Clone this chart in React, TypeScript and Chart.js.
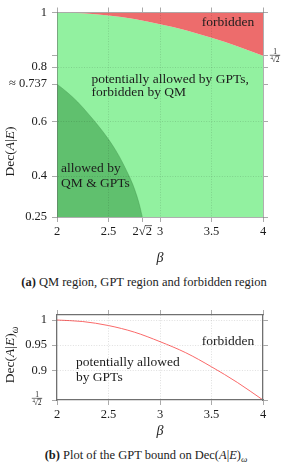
import React, { useEffect, useRef } from 'react';
import { Chart, registerables } from 'chart.js';

Chart.register(...registerables);

// ---- data ----
const BETA_GPT = [2, 2.25, 2.5, 2.75, 3, 3.25, 3.5, 3.75, 4];
const DEC_GPT = [1.0, 0.997, 0.989, 0.976, 0.957, 0.935, 0.907, 0.876, 0.841];
const BETA_QM = [2, 2.1, 2.2, 2.3, 2.4, 2.5, 2.6, 2.7, 2.75, 2.8, 2.828];
const DEC_QM = [0.737, 0.707, 0.672, 0.63, 0.585, 0.535, 0.475, 0.4, 0.355, 0.295, 0.25];

const X_TICKS_A = [2, 2.5, 2.828, 3, 3.5, 4];
const X_LABELS_A = ['2', '2.5', '2√2', '3', '3.5', '4'];
const Y_TICKS_A = [0.25, 0.4, 0.6, 0.737, 0.8, 0.841, 1];
const Y_LABELS_A = ['0.25', '0.4', '0.6', '≈ 0.737', '0.8', '', '1'];
const X_TICKS_B = [2, 2.5, 3, 3.5, 4];
const X_LABELS_B = ['2', '2.5', '3', '3.5', '4'];
const Y_TICKS_B = [0.841, 0.9, 0.95, 1];
const Y_LABELS_B = ['', '0.9', '0.95', '1'];

// ---- styles ----
const SERIF = "'Liberation Serif', 'DejaVu Serif', serif";
const TEXT = '#1c1c1c';
const RED = 'rgb(237,108,108)';
const LIGHT_GREEN = 'rgb(146,241,160)';
const DARK_GREEN = 'rgb(96,192,110)';
const GRID = 'rgba(0,0,0,0.16)';
const TICK = 'rgb(170,170,170)';
const FRAME_A = 'rgba(95,95,95,0.5)';
const FRAME_B = 'rgb(112,112,112)';
const TICK_SIZE = 12.5;
const ANN_SIZE = 13.5;
const X_PAD = 2;

const fixedTicks = (vals: number[]) => (axis: any) => {
  axis.ticks = vals.map((v) => ({ value: v }));
};
const gridColor = (vals: number[]) => (ctx: any) =>
  ctx.tick && vals.some((g) => Math.abs(g - ctx.tick.value) < 1e-6) ? GRID : 'rgba(0,0,0,0)';

function scales(xT: number[], xL: string[], yT: number[], yL: string[], xmin: number, xmax: number,
  ymin: number, ymax: number, xGrid: number[], yGrid: number[], frame: string, fw: number,
  bottomH: number, topH: number) {
  const border = { z: 1, color: frame, width: fw, dash: [1, 1.6] };
  const grid = { z: 1, tickColor: TICK, tickLength: 5, tickWidth: 1, lineWidth: 0.8 };
  const tickFont = { family: SERIF, size: TICK_SIZE };
  return {
    x: {
      type: 'linear', position: 'bottom', min: xmin, max: xmax,
      afterBuildTicks: fixedTicks(xT),
      afterFit: (s: any) => { s.height = bottomH; },
      ticks: { autoSkip: false, maxRotation: 0, padding: X_PAD, color: TEXT, font: tickFont,
        callback: (_v: any, i: number) => xL[i] },
      grid: { ...grid, color: gridColor(xGrid) },
      border,
    },
    x2: {
      type: 'linear', position: 'top', min: xmin, max: xmax,
      afterBuildTicks: fixedTicks(xT),
      afterFit: (s: any) => { s.height = topH; },
      ticks: { display: false },
      grid: { ...grid, drawOnChartArea: false },
      border,
    },
    y: {
      type: 'linear', position: 'left', min: ymin, max: ymax,
      afterBuildTicks: fixedTicks(yT),
      afterFit: (s: any) => { s.width = 57; },
      ticks: { autoSkip: false, padding: 5, color: TEXT, font: tickFont,
        callback: (_v: any, i: number) => yL[i] },
      grid: { ...grid, color: gridColor(yGrid) },
      border,
    },
    y2: {
      type: 'linear', position: 'right', min: ymin, max: ymax,
      afterBuildTicks: fixedTicks(yT),
      afterFit: (s: any) => { s.width = 25; },
      ticks: { display: false },
      grid: { ...grid, drawOnChartArea: false },
      border,
    },
  };
}

type Piece = { t: string; it?: boolean; sub?: boolean };

function drawPieces(ctx: any, pieces: Piece[], size: number, x: number, y: number, rotate: boolean) {
  ctx.save();
  ctx.translate(x, y);
  if (rotate) ctx.rotate(-Math.PI / 2);
  const fontOf = (p: Piece) => `${p.it ? 'italic ' : ''}${p.sub ? size * 0.7 : size}px ${SERIF}`;
  let total = 0;
  const widths = pieces.map((p) => {
    ctx.font = fontOf(p);
    const w = ctx.measureText(p.t).width;
    total += w;
    return w;
  });
  let cx = -total / 2;
  ctx.textAlign = 'left';
  ctx.textBaseline = 'alphabetic';
  ctx.fillStyle = TEXT;
  const base = size * 0.33;
  pieces.forEach((p, i) => {
    ctx.font = fontOf(p);
    ctx.fillText(p.t, cx, base + (p.sub ? size * 0.25 : 0));
    cx += widths[i];
  });
  ctx.restore();
}

function drawFrac(ctx: any, cx: number, barY: number, s: number) {
  ctx.save();
  ctx.fillStyle = TEXT;
  ctx.strokeStyle = TEXT;
  ctx.font = `${s}px ${SERIF}`;
  ctx.textAlign = 'center';
  ctx.textBaseline = 'alphabetic';
  ctx.fillText('1', cx, barY - 1.4);
  const wRad = ctx.measureText('√').width;
  const w2 = ctx.measureText('2').width;
  ctx.font = `${s * 0.6}px ${SERIF}`;
  const w4 = ctx.measureText('4').width;
  const total = w4 * 0.6 + wRad + w2;
  const left = cx - total / 2;
  const baseD = barY + 1.2 + s * 0.7;
  ctx.textAlign = 'left';
  ctx.fillText('4', left, baseD - s * 0.4);
  ctx.font = `${s}px ${SERIF}`;
  ctx.fillText('√', left + w4 * 0.6, baseD);
  ctx.fillText('2', left + w4 * 0.6 + wRad, baseD);
  ctx.lineWidth = 0.5;
  ctx.beginPath();
  const olY = baseD - s * 0.8;
  ctx.moveTo(left + w4 * 0.6 + wRad - 0.4, olY);
  ctx.lineTo(left + total, olY);
  ctx.stroke();
  ctx.lineWidth = 0.6;
  ctx.beginPath();
  ctx.moveTo(cx - total / 2 - 0.6, barY);
  ctx.lineTo(cx + total / 2 + 0.6, barY);
  ctx.stroke();
  ctx.restore();
}

type Ann = { x: number; y: number; lines: string[]; lh: number };

function drawAnns(chart: any, anns: Ann[]) {
  const { ctx } = chart;
  const xs = chart.scales.x;
  const ys = chart.scales.y;
  ctx.save();
  ctx.fillStyle = TEXT;
  ctx.font = `${ANN_SIZE}px ${SERIF}`;
  ctx.textAlign = 'left';
  ctx.textBaseline = 'alphabetic';
  anns.forEach((a) => {
    const px = xs.getPixelForValue(a.x);
    const py = ys.getPixelForValue(a.y);
    a.lines.forEach((l, i) => ctx.fillText(l, px, py + i * a.lh));
  });
  ctx.restore();
}

function drawBeta(ctx: any, x: number, y: number) {
  ctx.save();
  ctx.fillStyle = TEXT;
  ctx.font = `italic 14px ${SERIF}`;
  ctx.textAlign = 'center';
  ctx.textBaseline = 'alphabetic';
  ctx.fillText('β', x, y);
  ctx.restore();
}

const pts = (xs: number[], ys: number[]) => xs.map((x, i) => ({ x, y: ys[i] }));

function configA(): any {
  const gpt = pts(BETA_GPT, DEC_GPT);
  const qm = pts(BETA_QM, DEC_QM);
  const common = { pointRadius: 0, cubicInterpolationMode: 'monotone', borderColor: 'rgba(0,0,0,0)', borderWidth: 1 };
  return {
    type: 'line',
    data: {
      datasets: [
        { ...common, label: 'allowed by QM & GPTs', data: qm, fill: 'start', backgroundColor: DARK_GREEN, borderColor: 'rgba(70,150,80,0.55)', borderWidth: 0.8 },
        { ...common, label: 'forbidden', data: gpt, fill: 'end', backgroundColor: RED },
        { ...common, label: 'potentially allowed by GPTs', data: gpt, fill: 'start', backgroundColor: LIGHT_GREEN },
      ],
    },
    options: {
      responsive: false,
      animation: false,
      events: [],
      layout: { padding: 0 },
      plugins: { legend: { display: false }, tooltip: { enabled: false } },
      scales: scales(X_TICKS_A, X_LABELS_A, Y_TICKS_A, Y_LABELS_A, 2, 4, 0.25, 1,
        [2.5, 3, 3.5], [0.4, 0.6, 0.8], FRAME_A, 1, 53, 11),
    },
    plugins: [{
      id: 'decorA',
      afterDraw(chart: any) {
        const { ctx, chartArea } = chart;
        drawAnns(chart, [
          { x: 3.405, y: 0.949, lines: ['forbidden'], lh: 0 },
          { x: 2.336, y: 0.743, lines: ['potentially allowed by GPTs,', 'forbidden by QM'], lh: 13.5 },
          { x: 2.039, y: 0.415, lines: ['allowed by', 'QM & GPTs'], lh: 15 },
        ]);
        // y title
        drawPieces(ctx, [{ t: 'Dec(' }, { t: 'A', it: true }, { t: '|' }, { t: 'E', it: true }, { t: ')' }],
          ANN_SIZE, chartArea.left - 47, chartArea.top + 139, true);
        // x title
        drawBeta(ctx, chart.scales.x.getPixelForValue(3), chartArea.bottom + 45);
        // right fraction label
        const ys = chart.scales.y;
        drawFrac(ctx, chartArea.right + 12, ys.getPixelForValue(Y_TICKS_A[5]) - 0.6, 7.5);
        // overline on 2√2 label
        const xs = chart.scales.x;
        ctx.save();
        ctx.font = `${TICK_SIZE}px ${SERIF}`;
        const cx = xs.getPixelForValue(X_TICKS_A[2]);
        const wt = ctx.measureText(X_LABELS_A[2]).width;
        const wp = ctx.measureText('2√').width;
        const mid = chartArea.bottom + 5 + X_PAD + (TICK_SIZE * 1.2) / 2;
        const oy = mid - TICK_SIZE * 0.47;
        ctx.strokeStyle = TEXT;
        ctx.lineWidth = 0.7;
        ctx.beginPath();
        ctx.moveTo(cx - wt / 2 + wp - 0.6, oy);
        ctx.lineTo(cx + wt / 2, oy);
        ctx.stroke();
        ctx.restore();
      },
    }],
  };
}

function configB(): any {
  const gpt = pts(BETA_GPT, DEC_GPT);
  return {
    type: 'line',
    data: {
      datasets: [
        { label: 'GPT bound', data: gpt, fill: false, borderColor: 'rgb(250,105,105)', borderWidth: 1,
          pointRadius: 0, cubicInterpolationMode: 'monotone' },
      ],
    },
    options: {
      responsive: false,
      animation: false,
      events: [],
      layout: { padding: 0 },
      plugins: { legend: { display: false }, tooltip: { enabled: false } },
      scales: scales(X_TICKS_B, X_LABELS_B, Y_TICKS_B, Y_LABELS_B, 2, 4, 0.841, 1.01,
        [2.5, 3, 3.5], [0.9, 0.95, 1], FRAME_B, 1.3, 45, 15),
    },
    plugins: [{
      id: 'decorB',
      afterDraw(chart: any) {
        const { ctx, chartArea } = chart;
        drawAnns(chart, [
          { x: 3.405, y: 0.9506, lines: ['forbidden'], lh: 0 },
          { x: 2.184, y: 0.9078, lines: ['potentially allowed', 'by GPTs'], lh: 14.3 },
        ]);
        drawPieces(ctx, [{ t: 'Dec(' }, { t: 'A', it: true }, { t: '|' }, { t: 'E', it: true }, { t: ')' }, { t: 'ω', it: true, sub: true }],
          ANN_SIZE, chartArea.left - 47, chartArea.top + 40, true);
        drawBeta(ctx, chart.scales.x.getPixelForValue(3), chartArea.bottom + 35);
        const ys = chart.scales.y;
        drawFrac(ctx, chartArea.left - 20, ys.getPixelForValue(Y_TICKS_B[0]) - 1.7, 7.5);
      },
    }],
  };
}

export default function App() {
  const refA = useRef<HTMLCanvasElement>(null);
  const refB = useRef<HTMLCanvasElement>(null);
  useEffect(() => {
    const a = new Chart(refA.current as HTMLCanvasElement, configA());
    const b = new Chart(refB.current as HTMLCanvasElement, configB());
    return () => {
      a.destroy();
      b.destroy();
    };
  }, []);
  const cap: React.CSSProperties = {
    position: 'absolute', left: 0, width: 288, textAlign: 'center', fontSize: 12.5,
    lineHeight: '14px', whiteSpace: 'nowrap', color: TEXT, fontFamily: SERIF,
  };
  return (
    <div style={{ position: 'absolute', left: 0, top: 0, width: 288, height: 467, background: '#fff' }}>
      <canvas ref={refA} width={288} height={270}
        style={{ position: 'absolute', left: 0, top: 0, width: 288, height: 270 }} />
      <div style={{ ...cap, top: 275 }}><b>(a)</b> QM region, GPT region and forbidden region</div>
      <canvas ref={refB} width={288} height={145}
        style={{ position: 'absolute', left: 0, top: 300, width: 288, height: 145 }} />
      <div style={{ ...cap, top: 448, left: 2 }}>
        <b>(b)</b> Plot of the GPT bound on Dec(<i>A</i>|<i>E</i>)
        <sub style={{ fontSize: 9, lineHeight: 0, verticalAlign: '-3px' }}><i>ω</i></sub>
      </div>
    </div>
  );
}
